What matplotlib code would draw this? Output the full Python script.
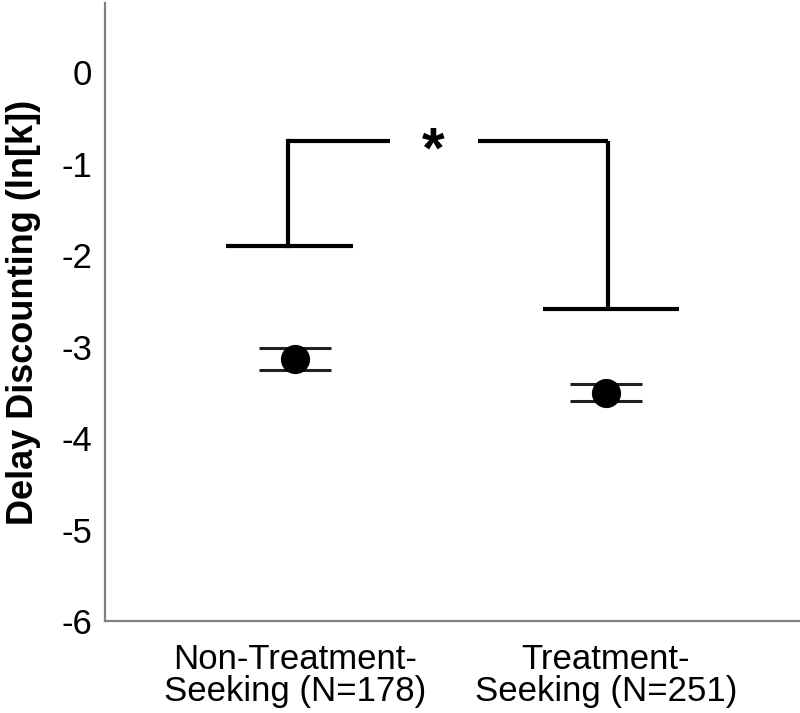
import matplotlib
matplotlib.use("Agg")
import matplotlib.pyplot as plt

# Data
groups = ["Non-Treatment-\nSeeking (N=178)", "Treatment-\nSeeking (N=251)"]
means = [-3.136, -3.505]
err_low = [-3.255, -3.592]
err_high = [-3.016, -3.408]
bracket_low = [-1.897, -2.592]   # bottom bars of significance bracket
bracket_top = -0.745
yticks = [0, -1, -2, -3, -4, -5, -6]

plt.rcParams['font.family'] = ['Liberation Sans', 'DejaVu Sans']

fig = plt.figure(figsize=(8.0, 7.13), dpi=100)
ax = fig.add_axes([105/800, 1 - 621/713, 1 - 105/800, (621 - 3)/713])

x = [0, 1]
yerr = [[m - lo for m, lo in zip(means, err_low)],
        [hi - m for m, hi in zip(means, err_high)]]
ax.errorbar(x, means, yerr=yerr, fmt='o', color='black', markersize=20,
            ecolor='#202020', elinewidth=2, capsize=26, capthick=2.2, zorder=3)

# significance bracket
lw = 3
ax.plot([-0.222, 0.186], [bracket_low[0]] * 2, color='black', lw=lw, solid_capstyle='butt')
ax.plot([-0.0225, -0.0225], [bracket_low[0], bracket_top], color='black', lw=lw, solid_capstyle='projecting')
ax.plot([-0.0225, 0.305], [bracket_top] * 2, color='black', lw=lw, solid_capstyle='butt')
ax.plot([0.588, 1.006], [bracket_top] * 2, color='black', lw=lw, solid_capstyle='butt')
ax.plot([1.006, 1.006], [bracket_top, bracket_low[1]], color='black', lw=lw, solid_capstyle='butt')
ax.plot([0.797, 1.235], [bracket_low[1]] * 2, color='black', lw=lw, solid_capstyle='butt')
ax.annotate("*", xy=(0.444, bracket_top), xytext=(0, -19.5), textcoords='offset points',
            ha='center', va='baseline', fontsize=42, fontweight='bold', color='black')

ax.set_xlim(-0.611, 1.624)
ax.set_ylim(-6.0, 0.76)
ax.set_yticks(yticks)
ax.set_yticklabels([str(t) for t in yticks])
ax.set_xticks(x)
ax.set_xticklabels(groups, linespacing=0.95)
ax.tick_params(axis='both', length=0, labelsize=25, colors='black')
ax.tick_params(axis='y', pad=9)
ax.tick_params(axis='x', pad=16)

for s in ['top', 'right']:
    ax.spines[s].set_visible(False)
for s in ['left', 'bottom']:
    ax.spines[s].set_color('#808080')
    ax.spines[s].set_linewidth(1.6)

ax.set_ylabel("Delay Discounting (ln[k])", fontsize=26, fontweight='bold', labelpad=15)

fig.savefig("out.png", dpi=100)
